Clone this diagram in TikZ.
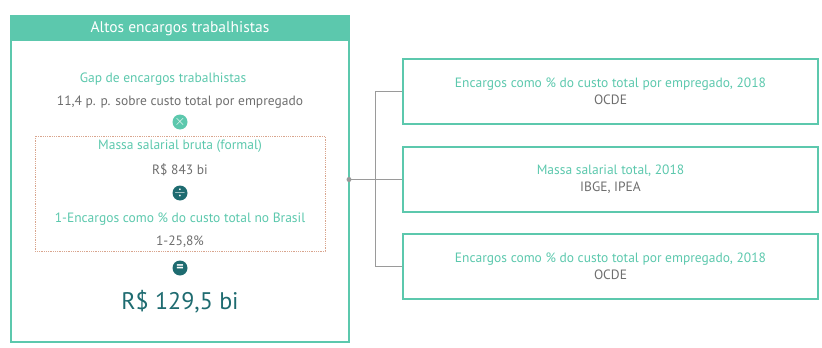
\documentclass[tikz,border=0pt]{standalone}
\usepackage{fontspec}
\setmainfont{PT Sans}
\definecolor{verde}{HTML}{5CC8AD}
\definecolor{petroleo}{HTML}{1E6B70}
\definecolor{cinza}{HTML}{6E6E6E}
\definecolor{linha}{HTML}{9A9A9A}
\definecolor{salmao}{HTML}{D9A58E}
\tikzset{
  texto/.style={font=\fontsize{13.5}{15}\selectfont, inner sep=0},
  operador/.style={circle, inner sep=0, minimum size=15pt, text=white, font=\fontsize{14}{14}\selectfont},
  fontebox/.style={draw=verde, line width=1.1pt, minimum width=415pt, minimum height=65pt,
    align=center, font=\fontsize{13.5}{17}\selectfont}
}
\begin{document}
\begin{tikzpicture}[x=1pt,y=-1pt]
		\useasboundingbox (0,0) rectangle (822,348);
		\draw[verde, line width=1.1pt] (11,16) rectangle (349,342);
		\fill[verde] (11,16) rectangle (349,41);
		\node[texto, text=white, font=\fontsize{15.5}{17}\selectfont] (titulo) at (180,29) {Altos encargos trabalhistas};
		\draw[salmao, densely dotted, line width=0.8pt] (35,136) rectangle (325,251);
		\node[texto, text=verde] (gap) at (163,79) {Gap de encargos trabalhistas};
		\node[texto, text=cinza] (pp) at (180,102) {11,4 p. p. sobre custo total por empregado};
		\node[operador, fill=verde] (vezes) at (180,122) {$\times$};
		\node[texto, text=verde] (massa) at (180,146) {Massa salarial bruta (formal)};
		\node[texto, text=cinza] (bi) at (180,170) {R\$ 843 bi};
		\node[operador, fill=petroleo] (divide) at (180,193) {$\div$};
		\node[texto, text=verde] (enc) at (180,219) {1-Encargos como \% do custo total no Brasil};
		\node[texto, text=cinza] (perc) at (180,242) {1-25,8\%};
		\node[operador, fill=petroleo] (igual) at (180,268) {\textbf{=}};
		\node[texto, text=petroleo, font=\fontsize{24}{26}\selectfont] (total) at (180,302) {R\$ 129,5 bi};
		% fontes
		\foreach \i/\y/\t/\s in {1/91.5/Encargos como \% do custo total por empregado{,} 2018/OCDE,
		                         2/179.5/Massa salarial total{,} 2018/{IBGE, IPEA},
		                         3/266.5/Encargos como \% do custo total por empregado{,} 2018/OCDE}
			\node[fontebox] (fonte\i) at (610.5,\y) {\textcolor{verde}{\t}\\\textcolor{cinza}{\s}};
		\coordinate (ponto) at (349,179.5);
		\draw[linha, line width=0.9pt] (ponto) -- (fonte2.west);
		\draw[linha, line width=0.9pt] (fonte1.west) -- ++(-27,0) |- (fonte3.west);
		\fill[linha] (ponto) circle (2.5);
	\end{tikzpicture}
\end{document}
